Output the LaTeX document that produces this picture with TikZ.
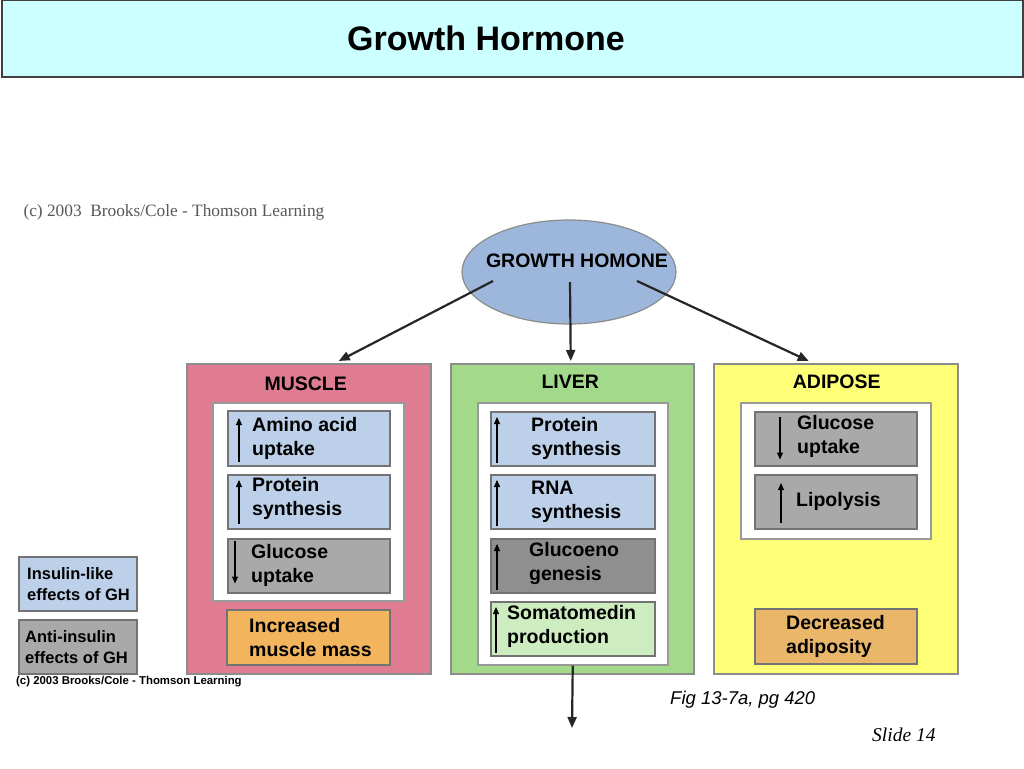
\documentclass[tikz,border=0pt]{standalone}
\usepackage{fontspec}
\setmainfont{Liberation Sans}
\newfontfamily\timesfont{Liberation Serif}
\usetikzlibrary{positioning,arrows.meta,shapes.geometric}
\definecolor{barcyan}{HTML}{CCFFFF}
\definecolor{hormoneblue}{HTML}{9DB7DC}
\definecolor{musclepink}{HTML}{DF7C92}
\definecolor{livergreen}{HTML}{A2D98A}
\definecolor{fatyellow}{HTML}{FFFF77}
\definecolor{likeblue}{HTML}{BDD0E9}
\definecolor{antigray}{HTML}{A9A9A9}
\definecolor{darkgray}{HTML}{8F8F8F}
\definecolor{somagreen}{HTML}{CDEDC0}
\definecolor{massorange}{HTML}{F2B55E}
\definecolor{fatorange}{HTML}{E9B66A}
\tikzset{
    organ/.style ={
        shape=rectangle,
        anchor=north west,
        draw=black!45,
        line width=1.5pt,
        minimum width=244pt,
        minimum height=310pt
    },
    inner/.style ={
        shape=rectangle,
        anchor=north west,
        draw=black!40,
        fill=white,
        line width=1.5pt,
        minimum width=190pt
    },
    effect/.style ={
        shape=rectangle,
        anchor=north west,
        draw=black!55,
        line width=1.5pt,
        minimum width=162pt,
        minimum height=54pt
    },
    words/.style ={
        inner sep=0pt,
        anchor=west,
        align=left,
        font=\fontsize{19.5}{24}\selectfont\bfseries
    },
    heading/.style ={
        inner sep=0pt,
        font=\fontsize{19.5}{24}\selectfont\bfseries
    },
    bigarrow/.style ={
        -{Triangle[length=11pt,width=9pt]},
        line width=2.2pt,
        draw=black!85
    },
    rise/.style ={
        -{Triangle[length=7pt,width=6pt]},
        line width=1.1pt
    }
}
\begin{document}
\begin{tikzpicture}[x=1pt,y=-1pt]
    \useasboundingbox[fill=white] (0,0) rectangle (1024,768);
    % title bar
    \node[draw=black!75,fill=barcyan,line width=1.5pt,anchor=north west,
        minimum width=1021pt,minimum height=76pt] (bar) at (1,0) {};
    \node[font=\fontsize{34}{36}\selectfont\bfseries] (title) at (486,38) {Growth Hormone};
    \node[anchor=west,text=black!65,font=\timesfont\fontsize{17.3}{20}\selectfont] (credit) at (20,212)
        {(c) 2003\ \ Brooks/Cole - Thomson Learning};
    % hormone
    \node[ellipse,draw=black!45,fill=hormoneblue,line width=1.2pt,
        minimum width=214pt,minimum height=104pt] (gh) at (569,272) {};
    \node[heading] at ([xshift=8pt,yshift=11pt]gh.center) {GROWTH HOMONE};
    % target organs
    \node[organ,fill=musclepink] (muscle) at (186,363) {};
    \node[organ,fill=livergreen,minimum width=243pt] (liver) at (450,363) {};
    \node[organ,fill=fatyellow] (adipose) at (713,363) {};
    \node[heading,below=14pt of muscle.north,xshift=-3pt] {MUSCLE};
    \node[heading,below=12pt of liver.north,xshift=-2pt] {LIVER};
    \node[heading,below=12pt of adipose.north,xshift=1pt] {ADIPOSE};
    \node[inner,minimum width=191pt,minimum height=198pt] (musclein) at (212,402) {};
    \node[inner,minimum height=262pt] (liverin) at (477,402) {};
    \node[inner,minimum height=136pt] (adiposein) at (740,402) {};
    % muscle
    \node[effect,fill=likeblue,minimum height=55pt] (mamino) at (227,410) {};
    \node[effect,fill=likeblue] (mprotein) at (227,474) {};
    \node[effect,fill=antigray] (mglucose) at (227,538) {};
    \node[effect,fill=massorange,minimum width=163pt,minimum height=55pt] (mmass) at (226,609) {};
    \node[words,right=25pt of mamino.west] {Amino acid\\uptake};
    \node[words,right=25pt of mprotein.west,yshift=3pt] {Protein\\synthesis};
    \node[words,right=24pt of mglucose.west] {Glucose\\uptake};
    \node[words,right=23pt of mmass.west] {Increased\\muscle mass};
    \draw[rise] ([xshift=12pt,yshift=5pt]mamino.south west) -- ([xshift=12pt,yshift=-8pt]mamino.north west);
    \draw[rise] ([xshift=12pt,yshift=6pt]mprotein.south west) -- ([xshift=12pt,yshift=-6pt]mprotein.north west);
    \draw[rise] ([xshift=8pt,yshift=-3pt]mglucose.north west) -- ([xshift=8pt,yshift=10pt]mglucose.south west);
    % liver
    \node[effect,fill=likeblue,minimum width=164pt] (lprotein) at (490,411) {};
    \node[effect,fill=likeblue,minimum width=164pt] (lrna) at (490,474) {};
    \node[effect,fill=darkgray,minimum width=164pt] (lgluco) at (490,538) {};
    \node[effect,fill=somagreen,minimum width=164pt] (lsoma) at (490,601) {};
    \node[words,right=41pt of lprotein.west] {Protein\\synthesis};
    \node[words,right=41pt of lrna.west] {RNA\\synthesis};
    \node[words,right=39pt of lgluco.west,yshift=2pt] {Glucoeno\\genesis};
    \node[words,right=17pt of lsoma.west,yshift=2pt] {Somatomedin\\production};
    \draw[rise] ([xshift=7pt,yshift=4pt]lprotein.south west) -- ([xshift=7pt,yshift=-6pt]lprotein.north west);
    \draw[rise] ([xshift=7pt,yshift=4pt]lrna.south west) -- ([xshift=7pt,yshift=-6pt]lrna.north west);
    \draw[rise] ([xshift=7pt,yshift=4pt]lgluco.south west) -- ([xshift=7pt,yshift=-6pt]lgluco.north west);
    \draw[rise] ([xshift=6pt,yshift=4pt]lsoma.south west) -- ([xshift=6pt,yshift=-6pt]lsoma.north west);
    % adipose
    \node[effect,fill=antigray] (aglucose) at (754,411) {};
    \node[effect,fill=antigray] (alipo) at (754,474) {};
    \node[effect,fill=fatorange,minimum height=55pt] (aloss) at (754,608) {};
    \node[words,right=43pt of aglucose.west,yshift=2pt] {Glucose\\uptake};
    \node[words,right=42pt of alipo.west] {Lipolysis};
    \node[words,right=32pt of aloss.west] {Decreased\\adiposity};
    \draw[rise] ([xshift=26pt,yshift=-6pt]aglucose.north west) -- ([xshift=26pt,yshift=7pt]aglucose.south west);
    \draw[rise] ([xshift=27pt,yshift=7pt]alipo.south west) -- ([xshift=27pt,yshift=-9pt]alipo.north west);
    % legend
    \node[effect,fill=likeblue,minimum width=118pt] (like) at (18,556) {};
    \node[effect,fill=antigray,minimum width=118pt] (anti) at (18,619) {};
    \node[words,right=9pt of like.west,font=\fontsize{16.5}{21}\selectfont\bfseries] {Insulin-like\\effects of GH};
    \node[words,right=7pt of anti.west,font=\fontsize{16.5}{21}\selectfont\bfseries] {Anti-insulin\\effects of GH};
    \node[anchor=west,inner sep=0pt,font=\fontsize{11.4}{13}\selectfont\bfseries] (source) at (16,682)
        {(c) 2003 Brooks/Cole - Thomson Learning};
    \node[anchor=west,inner sep=0pt,font=\fontsize{18.5}{22}\selectfont\itshape] (fig) at (670,700) {Fig 13-7a, pg 420};
    \node[anchor=west,inner sep=0pt,font=\timesfont\fontsize{19.5}{22}\selectfont\itshape] (slide) at (872,735) {Slide 14};
    % connectors
    \coordinate (out) at (572,728);
    \draw[bigarrow] ([xshift=-76pt,yshift=-9pt]gh.center) -- ([xshift=30pt,yshift=2pt]muscle.north);
    \draw[bigarrow] ([xshift=1pt,yshift=-10pt]gh.center) -- ([xshift=-1.5pt,yshift=2pt]liver.north);
    \draw[bigarrow] ([xshift=68pt,yshift=-9pt]gh.center) -- ([xshift=-27pt,yshift=2pt]adipose.north);
    \draw[bigarrow] (liverin.south) -- (out);
\end{tikzpicture}
\end{document}
